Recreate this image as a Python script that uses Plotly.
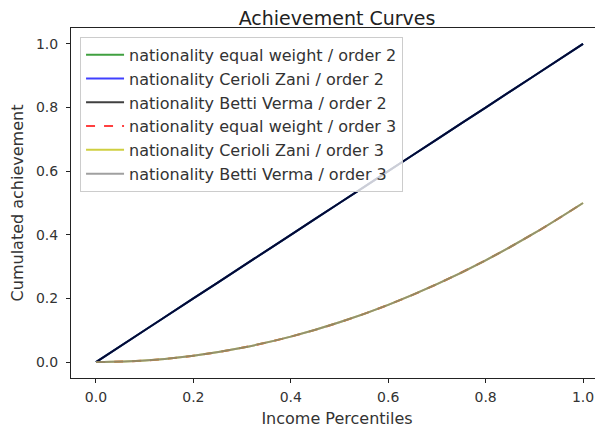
import plotly.graph_objects as go

# Data
percentiles = [0.0, 0.1, 0.2, 0.3, 0.4, 0.5, 0.6, 0.7, 0.8, 0.9, 1.0]
equal_weight_o2 = [0.0, 0.1, 0.2, 0.3, 0.4, 0.5, 0.6, 0.7, 0.8, 0.9, 1.0]
cerioli_zani_o2 = [0.0, 0.1, 0.2, 0.3, 0.4, 0.5, 0.6, 0.7, 0.8, 0.9, 1.0]
betti_verma_o2 = [0.0, 0.1, 0.2, 0.3, 0.4, 0.5, 0.6, 0.7, 0.8, 0.9, 1.0]
equal_weight_o3 = [0.0, 0.005, 0.02, 0.045, 0.08, 0.125, 0.18, 0.245, 0.32, 0.405, 0.5]
cerioli_zani_o3 = [0.0, 0.005, 0.02, 0.045, 0.08, 0.125, 0.18, 0.245, 0.32, 0.405, 0.5]
betti_verma_o3 = [0.0, 0.005, 0.02, 0.045, 0.08, 0.125, 0.18, 0.245, 0.32, 0.405, 0.5]
tick_vals = [0.0, 0.2, 0.4, 0.6, 0.8, 1.0]
tick_text = ["0.0", "0.2", "0.4", "0.6", "0.8", "1.0"]

series = [
    ("nationality equal weight / order 2", equal_weight_o2, "rgb(0,128,0)", "solid"),
    ("nationality Cerioli Zani / order 2", cerioli_zani_o2, "rgb(0,0,255)", "solid"),
    ("nationality Betti Verma / order 2", betti_verma_o2, "rgb(0,0,0)", "solid"),
    ("nationality equal weight / order 3", equal_weight_o3, "rgb(255,0,0)", "dash"),
    ("nationality Cerioli Zani / order 3", cerioli_zani_o3, "rgb(191,191,0)", "solid"),
    ("nationality Betti Verma / order 3", betti_verma_o3, "rgb(128,128,128)", "solid"),
]

FONT = "DejaVu Sans"
TXT = "#333333"

fig = go.Figure()
for name, vals, color, dash in series:
    fig.add_trace(go.Scatter(
        x=percentiles, y=vals, mode="lines", name=name,
        line=dict(color=color, width=2, dash=dash, shape="spline"),
        opacity=0.75,
    ))

# page body adds an 8px offset; figure sized to end at the window edge
fig.update_layout(
    width=595, height=423,
    margin=dict(l=63, r=0, t=20, b=53),
    paper_bgcolor="white", plot_bgcolor="white",
    font=dict(family=FONT, size=14, color=TXT),
    title=dict(text="Achievement Curves", x=0.5, xanchor="center",
               xref="paper", y=0.975, yanchor="middle",
               font=dict(family=FONT, size=19, color="#222")),
    showlegend=True,
    legend=dict(x=0.017, y=0.975, xanchor="left", yanchor="top",
                bgcolor="rgba(255,255,255,0.8)", bordercolor="#cccccc",
                borderwidth=1, font=dict(family=FONT, size=16, color=TXT),
                tracegroupgap=0, itemwidth=38),
    xaxis=dict(range=[-0.0513, 1.041], tickvals=tick_vals, ticktext=tick_text,
               showgrid=False, zeroline=False, showline=True, linecolor="#222",
               linewidth=1, mirror=True, ticks="outside", ticklen=4,
               tickcolor="#222", tickfont=dict(size=14), ticklabelstandoff=2,
               title=dict(text="Income Percentiles", standoff=9,
                          font=dict(family=FONT, size=16, color=TXT))),
    yaxis=dict(range=[-0.05, 1.05], tickvals=tick_vals, ticktext=tick_text,
               showgrid=False, zeroline=False, showline=True, linecolor="#222",
               linewidth=1, ticks="outside", ticklen=4, tickcolor="#222",
               tickfont=dict(size=14), ticklabelstandoff=5,
               title=dict(text="Cumulated achievement", standoff=9,
                          font=dict(family=FONT, size=16, color=TXT))),
)

fig.write_html("out.html")
